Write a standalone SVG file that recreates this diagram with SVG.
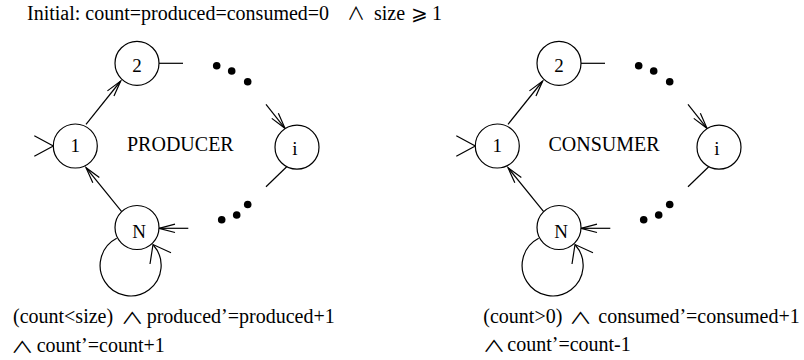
<svg xmlns="http://www.w3.org/2000/svg" width="804" height="360" viewBox="0 0 804 360">
<style>
  .node circle { fill: #fff; stroke: #000; stroke-width: 1.2; }
  .lbl { font-family: "Liberation Serif", "Times New Roman", serif; font-size: 19px; fill: #000; text-anchor: middle; }
  .conn path, .conn line { fill: none; stroke: #000; stroke-width: 1.2; }
  .arr { marker-end: url(#ah); }
  .dot { fill: #000; }
  .txt { font-family: "Liberation Serif", "Times New Roman", serif; font-size: 20px; fill: #000; }
  .and { font-family: "Noto Sans CJK JP", "DejaVu Sans", sans-serif; font-size: 18px; }
</style>
<defs>
  <marker id="ah" markerUnits="userSpaceOnUse" markerWidth="20" markerHeight="12" viewBox="-17 -6 18 12" refX="0" refY="0" orient="auto">
    <path d="M-16,-4.2 L0,0 L-16,4.2" fill="none" stroke="#000" stroke-width="1.2"/>
  </marker>
</defs>

<text class="txt" x="27" y="20" font-size="20.5">Initial: count=produced=consumed=0</text>
<text class="txt and" x="347" y="20" font-size="17">∧</text>
<text class="txt" x="374" y="20" font-size="20.5">size</text>
<text class="txt" x="411" y="20" font-size="20.5">⩾</text>
<text class="txt" x="432" y="20" font-size="20.5">1</text>

<g id="connectors" class="conn">
  <path d="M34.3,135.7 L53.3,146 L34.3,156.3"/>
  <line class="arr" x1="86" y1="124.3" x2="120.7" y2="81"/>
  <line x1="159" y1="63.3" x2="183" y2="63.3"/>
  <line class="arr" x1="266" y1="104.3" x2="285" y2="128.3"/>
  <line x1="286.7" y1="166.7" x2="266" y2="186.7"/>
  <line class="arr" x1="188.3" y1="228.3" x2="159" y2="228.3"/>
  <line class="arr" x1="121.7" y1="211.7" x2="86" y2="167.7"/>
  <path d="M116.7,238.3 A30.5,30.5 0 1 0 153.3,245"/>
  <path d="M171,252.7 L153,244.5 L150,264"/>

  <path d="M456.3,135.7 L475.3,146 L456.3,156.3"/>
  <line class="arr" x1="508" y1="124.3" x2="542.7" y2="81"/>
  <line x1="581" y1="63.3" x2="605" y2="63.3"/>
  <line class="arr" x1="688" y1="104.3" x2="707" y2="128.3"/>
  <line x1="708.7" y1="166.7" x2="688" y2="186.7"/>
  <line class="arr" x1="610.3" y1="228.3" x2="581" y2="228.3"/>
  <line class="arr" x1="543.7" y1="211.7" x2="508" y2="167.7"/>
  <path d="M538.7,238.3 A30.5,30.5 0 1 0 575.3,245"/>
  <path d="M593,252.7 L575,244.5 L572,264"/>
</g>

<g id="ellipses">
  <circle class="dot" cx="216.7" cy="65.7" r="3.8"/>
  <circle class="dot" cx="231.7" cy="71" r="3.8"/>
  <circle class="dot" cx="247.7" cy="81.7" r="3.8"/>
  <circle class="dot" cx="221.7" cy="219.7" r="3.8"/>
  <circle class="dot" cx="236.7" cy="215" r="3.8"/>
  <circle class="dot" cx="247.7" cy="204.5" r="3.8"/>
  <circle class="dot" cx="638.7" cy="65.7" r="3.8"/>
  <circle class="dot" cx="653.7" cy="71" r="3.8"/>
  <circle class="dot" cx="669.7" cy="81.7" r="3.8"/>
  <circle class="dot" cx="643.7" cy="219.7" r="3.8"/>
  <circle class="dot" cx="658.7" cy="215" r="3.8"/>
  <circle class="dot" cx="669.7" cy="204.5" r="3.8"/>
</g>

<g id="p1" class="node"><circle cx="75.3" cy="146" r="22"/><text class="lbl" x="75.3" y="152">1</text></g>
<g id="p2" class="node"><circle cx="137" cy="63.3" r="22"/><text class="lbl" x="137" y="72">2</text></g>
<g id="pi" class="node"><circle cx="297" cy="147.2" r="22"/><text class="lbl" x="295" y="155">i</text></g>
<g id="pN" class="node"><circle cx="137" cy="227.5" r="22"/><text class="lbl" x="139" y="238">N</text></g>

<g id="c1" class="node"><circle cx="497.3" cy="146" r="22"/><text class="lbl" x="497.3" y="152">1</text></g>
<g id="c2" class="node"><circle cx="559" cy="63.3" r="22"/><text class="lbl" x="559" y="72">2</text></g>
<g id="ci" class="node"><circle cx="719" cy="147.2" r="22"/><text class="lbl" x="717" y="155">i</text></g>
<g id="cN" class="node"><circle cx="559" cy="227.5" r="22"/><text class="lbl" x="561" y="238">N</text></g>

<text class="txt" x="127" y="151">PRODUCER</text>
<text class="txt" x="548.5" y="151">CONSUMER</text>

<text class="txt" x="13" y="323">(count&lt;size)</text>
<text class="txt and" transform="translate(120.7,324) scale(1.28,0.9)">∧</text>
<text class="txt" x="146.7" y="323">produced’=produced+1</text>
<text class="txt and" transform="translate(10.7,352.5) scale(1.28,0.9)">∧</text>
<text class="txt" x="36.7" y="351.5">count’=count+1</text>

<text class="txt" x="483.3" y="323">(count&gt;0)</text>
<text class="txt and" transform="translate(569,324) scale(1.28,0.9)">∧</text>
<text class="txt" x="598.3" y="323">consumed’=consumed+1</text>
<text class="txt and" transform="translate(482.4,352) scale(1.28,0.9)">∧</text>
<text class="txt" x="507.3" y="351">count’=count-1</text>
</svg>
